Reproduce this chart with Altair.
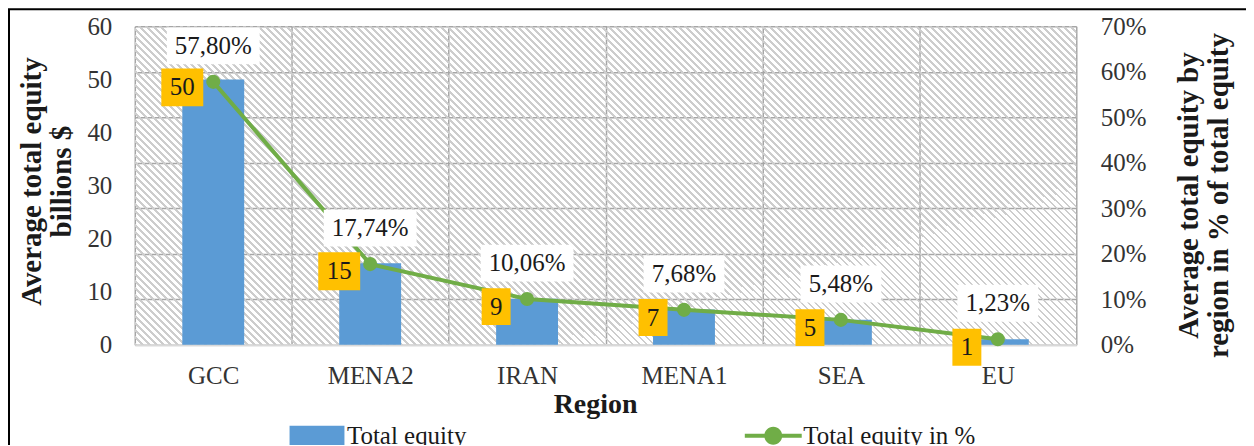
import altair as alt
import pandas as pd

# ---------------- data ----------------
regions = ["GCC", "MENA2", "IRAN", "MENA1", "SEA", "EU"]
equity = [50.0, 15.35, 8.7, 6.64, 4.74, 1.06]          # billions $
equity_pct = [57.80, 17.74, 10.06, 7.68, 5.48, 1.23]    # % of total equity
series_names = ["Total equity", "Total equity in %"]
left_ticks = [0, 10, 20, 30, 40, 50, 60]
right_ticks = [0, 10, 20, 30, 40, 50, 60, 70]

# ---------------- style ----------------
W, H = 943, 319
FONT = "Liberation Serif, Times New Roman, Times, serif"
BLUE = "#5B9BD5"
GREEN = "#70AD47"
GOLD = "#FFC000"
GRID = "#A6A6A6"
TXT = "#1a1a1a"
LBL = "#333333"
FS = 25

df = pd.DataFrame({"region": regions, "equity": equity, "pct": equity_pct})
one = pd.DataFrame({"k": [0]})

# diagonal hatch as a striped linear gradient (decoration only)
n_str = 180
frac = 0.30
stops = []
for i in range(n_str):
    t0 = round(i / n_str, 6)
    t1 = round((i + frac) / n_str, 6)
    t2 = round((i + 1) / n_str, 6)
    stops += [
        {"offset": t0, "color": "#cdcdcd"},
        {"offset": t1, "color": "#cdcdcd"},
        {"offset": t1, "color": "rgba(255,255,255,0)"},
        {"offset": t2, "color": "rgba(255,255,255,0)"},
    ]
hatch_fill = {"gradient": "linear", "x1": 0, "y1": 1, "x2": 1.2009, "y2": 0.5937,
              "stops": stops}

x_enc = alt.X(
    "region:N", sort=regions, title="Region",
    scale=alt.Scale(paddingInner=0, paddingOuter=0),
    axis=alt.Axis(
        labelFont=FONT, labelFontSize=FS, labelColor=LBL, labelPadding=19, labelAngle=0,
        ticks=False, tickSize=0, tickBand="extent",
        grid=True, gridColor=GRID, gridWidth=1.5,
        domainColor="#D9D9D9", domainWidth=2.5,
        titleFont=FONT, titleFontSize=28, titleFontWeight="bold", titleColor=TXT,
        titleX=461, titleY=68, titleBaseline="alphabetic", titleAlign="center",
    ),
)

y_left = alt.Y(
    "equity:Q", scale=alt.Scale(domain=[0, 60], nice=False),
    axis=alt.Axis(
        orient="left", values=left_ticks, grid=False, ticks=False, tickSize=0, domain=False,
        labelFont=FONT, labelFontSize=FS, labelColor=LBL, labelPadding=23,
        title=["Average total equity", "billions $"],
        titleFont=FONT, titleFontSize=29, titleFontWeight="bold", titleColor=TXT,
        titleAngle=270, titleBaseline="middle", titleAlign="center",
        titleLineHeight=30, titleX=-103, titleY=155,
    ),
)

y_right = alt.Y(
    "pct:Q", scale=alt.Scale(domain=[0, 70], nice=False),
    axis=alt.Axis(
        orient="right", values=right_ticks, labelExpr="datum.value + '%'",
        grid=True, gridColor=GRID, gridWidth=1.5,
        ticks=False, tickSize=0, domain=False,
        labelFont=FONT, labelFontSize=FS, labelColor=LBL, labelPadding=24,
        title=["Average total equity by", "region in % of total equity"],
        titleFont=FONT, titleFontSize=29, titleFontWeight="bold", titleColor=TXT,
        titleAngle=270, titleBaseline="middle", titleAlign="center",
        titleLineHeight=30, titleX=112, titleY=169,
    ),
)

y_left_plain = alt.Y("equity:Q", scale=alt.Scale(domain=[0, 60], nice=False), axis=None)
y_right_plain = alt.Y("pct:Q", scale=alt.Scale(domain=[0, 70], nice=False), axis=None)

# ---------------- layers ----------------
frame = alt.Chart(one).mark_rect(fillOpacity=0, stroke="black", strokeWidth=2).encode(
    x=alt.value(-126), x2=alt.value(1200), y=alt.value(-17), y2=alt.value(500)
)
hatch = alt.Chart(one).mark_rect(fill=hatch_fill, strokeWidth=0).encode(
    x=alt.value(0), x2=alt.value("width"), y=alt.value(0), y2=alt.value("height")
)
bars = alt.Chart(df).mark_bar(width=62, color=BLUE).encode(x=x_enc, y=y_left)
left_a = alt.layer(hatch, frame, bars)

line = alt.Chart(df).mark_line(color=GREEN, strokeWidth=4).encode(x=x_enc, y=y_right)
pts = alt.Chart(df).mark_circle(color=GREEN, size=200, opacity=1).encode(x=x_enc, y=y_right)
right_a = alt.layer(line, pts)

base_l = alt.Chart(df).transform_calculate(
    lab="format(datum.equity, '.0f')"
).transform_calculate(nlab="length(datum.lab)")
ybox2 = base_l.transform_filter("datum.nlab >= 2").mark_point(
    shape="M-0.42,-0.38H0.42V0.38H-0.42Z", size=10000, filled=True, color=GOLD,
    opacity=1, strokeWidth=0, xOffset=-31, yOffset=8,
).encode(x=x_enc, y=y_left_plain)
ybox1 = base_l.transform_filter("datum.nlab < 2").mark_point(
    shape="M-0.29,-0.37H0.29V0.37H-0.29Z", size=10000, filled=True, color=GOLD,
    opacity=1, strokeWidth=0, xOffset=-31, yOffset=8,
).encode(x=x_enc, y=y_left_plain)
ytext = base_l.mark_text(
    font=FONT, fontSize=FS, color=TXT, align="center", baseline="middle",
    xOffset=-31, yOffset=8,
).encode(x=x_enc, y=y_left_plain, text="lab:N")
left_b = alt.layer(ybox2, ybox1, ytext)

base_r = alt.Chart(df).transform_calculate(
    plab="replace(format(datum.pct, '.2f'), '.', ',') + '%'"
).transform_calculate(nplab="length(datum.plab)")
wbox6 = base_r.transform_filter("datum.nplab >= 6").mark_point(
    shape="M-0.93,-0.37H0.93V0.37H-0.93Z", size=10000, filled=True, color="white",
    opacity=1, strokeWidth=0, yOffset=-36,
).encode(x=x_enc, y=y_right_plain)
wbox5 = base_r.transform_filter("datum.nplab < 6").mark_point(
    shape="M-0.81,-0.37H0.81V0.37H-0.81Z", size=10000, filled=True, color="white",
    opacity=1, strokeWidth=0, yOffset=-36,
).encode(x=x_enc, y=y_right_plain)
ptext = base_r.mark_text(
    font=FONT, fontSize=FS, color=TXT, align="center", baseline="middle", yOffset=-36,
).encode(x=x_enc, y=y_right_plain, text="plab:N")
right_b = alt.layer(wbox6, wbox5, ptext)

leg = alt.Legend(
    title=None, orient="none", legendX=153.5, legendY=381, direction="horizontal",
    symbolSize=3364, symbolOpacity=1, symbolStrokeWidth=0,
    labelFont=FONT, labelFontSize=FS, labelColor=TXT, labelOffset=1, labelLimit=400,
    columnPadding=278, padding=0,
)
legend_layer = alt.Chart(pd.DataFrame({"series": series_names})).mark_point(
    filled=True, opacity=0, size=10
).encode(
    x=alt.value(0), y=alt.value(0),
    color=alt.Color("series:N", scale=alt.Scale(domain=series_names, range=[BLUE, GREEN]), legend=leg),
    shape=alt.Shape("series:N", scale=alt.Scale(
        domain=series_names,
        range=["M-0.948,-0.345H0.948V0.345H-0.948Z",
               "M-0.983,-0.069H0.983V0.069H-0.983Z M-0.31,0 A0.31,0.31 0 1,1 0.31,0 A0.31,0.31 0 1,1 -0.31,0Z"],
    ), legend=leg),
)

chart = alt.layer(left_a, right_a, left_b, right_b, legend_layer).resolve_scale(
    y="independent"
).properties(
    width=W, height=H,
    autosize=alt.AutoSizeParams(type="none"),
    padding={"left": 127, "top": 18, "right": 170, "bottom": 100},
    background="white",
).configure_view(stroke=None)

chart.save("out.html", embed_options={"renderer": "svg", "actions": False})
